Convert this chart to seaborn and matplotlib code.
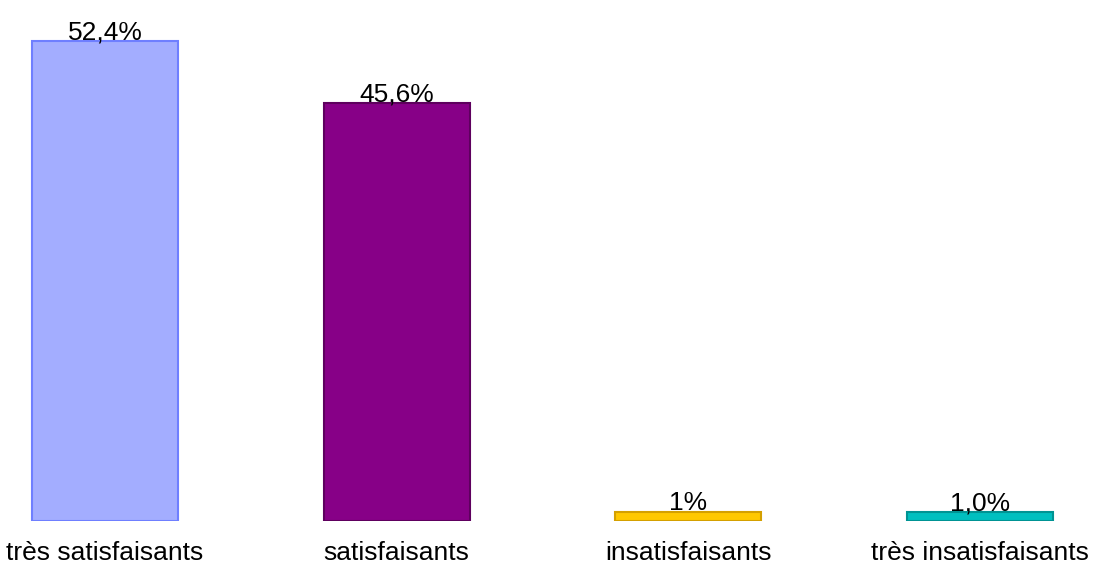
import matplotlib
matplotlib.use("Agg")
import matplotlib.pyplot as plt
import seaborn as sns
import pandas as pd

categories = ["très satisfaisants", "satisfaisants", "insatisfaisants", "très insatisfaisants"]
values = [52.4, 45.6, 1.0, 1.0]
value_labels = ["52,4%", "45,6%", "1%", "1,0%"]
fill_colors = ["#A3ADFF", "#870087", "#FFC800", "#00BFBF"]
edge_colors = ["#6F7FFF", "#5E005E", "#D4A000", "#009393"]

sns.set_theme(style="white")
plt.rcParams["font.family"] = ["Liberation Sans", "DejaVu Sans"]

df = pd.DataFrame({"cat": categories, "val": values})

W, H = 1101, 565
fig = plt.figure(figsize=(W / 100, H / 100), dpi=100)
bottom_px = 44
ax = fig.add_axes([0, bottom_px / H, 1, (H - bottom_px) / H])

sns.barplot(data=df, x="cat", y="val", hue="cat", palette=fill_colors,
            width=0.5, legend=False, ax=ax, saturation=1)

for patch, ec in zip(ax.patches, edge_colors):
    patch.set_edgecolor(ec)
    patch.set_linewidth(1.5)

unit = 291.67
ax.set_xlim(-105 / unit, (W - 105) / unit)
ax.set_ylim(0, 521 / 9.16)

for i, (v, lab) in enumerate(zip(values, value_labels)):
    ax.annotate(lab, (i, v), xytext=(0, -2.5), textcoords="offset points",
                ha="center", va="bottom", fontsize=19, color="black")
    ax.text(i, -3.45, categories[i], ha="center", va="center",
            fontsize=19, color="black", clip_on=False)

ax.set_xticks([])
ax.set_yticks([])
ax.set_xlabel("")
ax.set_ylabel("")
for s in ax.spines.values():
    s.set_visible(False)

fig.savefig("out.png", dpi=100, facecolor="white")
